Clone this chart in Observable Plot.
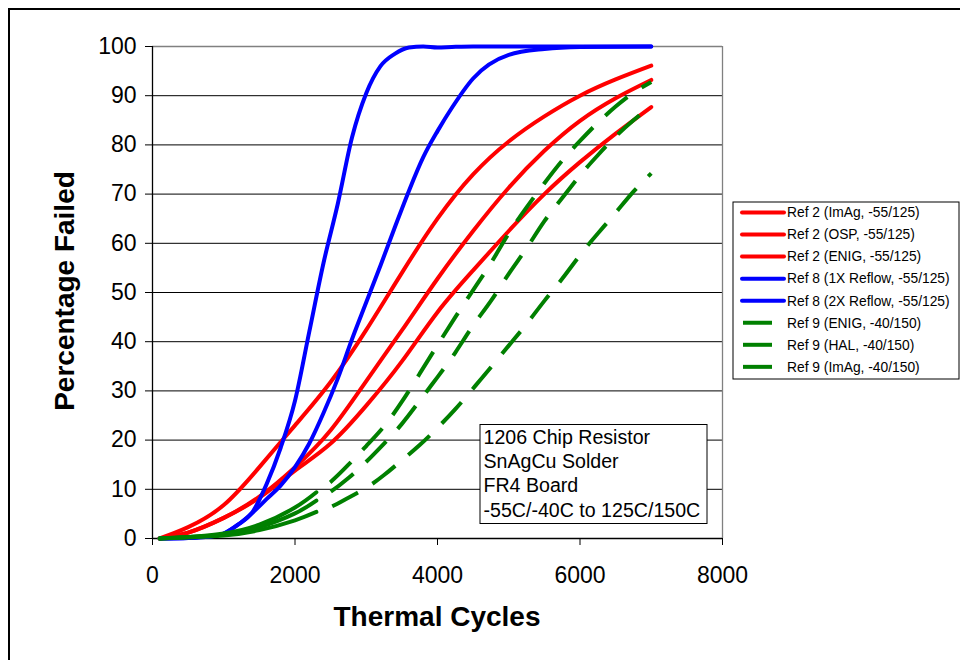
<!DOCTYPE html>
<html>
<head>
<meta charset="utf-8">
<script src="https://cdn.jsdelivr.net/npm/d3@7"></script>
<script src="https://cdn.jsdelivr.net/npm/@observablehq/plot@0.6"></script>
<style>
  html, body { margin: 0; padding: 0; background: #fff; }
  #chart { width: 960px; height: 660px; overflow: hidden; }
</style>
</head>
<body>
<div id="chart"></div>
<script>
// ---------- data ----------
const xTicks = [0, 2000, 4000, 6000, 8000];
const yTicks = [0, 10, 20, 30, 40, 50, 60, 70, 80, 90, 100];

const seriesNames = [
  "Ref 2 (ImAg, -55/125)",
  "Ref 2 (OSP, -55/125)",
  "Ref 2 (ENIG, -55/125)",
  "Ref 8 (1X Reflow, -55/125)",
  "Ref 8 (2X Reflow, -55/125)",
  "Ref 9 (ENIG, -40/150)",
  "Ref 9 (HAL, -40/150)",
  "Ref 9 (ImAg, -40/150)"
];
const seriesColors = ["#FF0000", "#FF0000", "#FF0000", "#0000FF", "#0000FF", "#008000", "#008000", "#008000"];
const seriesDashed = [false, false, false, false, false, true, true, true];
const seriesCurve  = ["natural", "natural", "natural", "monotone-x", "monotone-x", "natural", "natural", "natural"];

const cyclesRef2 = [100, 500, 1000, 1500, 2000, 2500, 3000, 3500, 4000, 4500, 5000, 5500, 6000, 6500, 7000];
const ref2ImAg = [0, 2.3, 6.8, 14.5, 23, 31.8, 42.4, 54, 65, 74, 80.7, 85.8, 90, 93.3, 96.1];
const ref2OSP  = [0, 1.2, 4.2, 8.5, 14.5, 22, 32, 42.3, 52.8, 62.5, 71.3, 78.8, 84.9, 89.5, 93.2];
const ref2ENIG = [0, 1.2, 4.2, 8.3, 13.8, 19.3, 27, 36, 46, 54.5, 62.5, 70, 76.5, 82.3, 87.7];

const cyclesRef8 = [100, 500, 800, 1000, 1200, 1400, 1600, 1800, 2000, 2200, 2400, 2600, 2800, 3000, 3200, 3400, 3600, 3800, 4000, 4200, 4500, 5000, 5500, 6000, 7000];
const ref8Reflow1X = [0, 0.1, 0.4, 1, 2.8, 5.3, 11, 18.5, 28, 42, 56, 68, 81.5, 90.5, 96, 98.5, 99.8, 100, 99.8, 99.9, 100, 100, 100, 100, 100];
const ref8Reflow2X = [0, 0.1, 0.4, 1, 2.8, 5.2, 8, 10.8, 14.5, 19.3, 25.5, 32.5, 40.5, 48, 55.5, 63.2, 70.7, 77.5, 82.8, 87.5, 93.5, 98.3, 99.5, 99.9, 100];

const cyclesRef9 = [100, 500, 1000, 1500, 2000, 2300, 2500, 2750, 3000, 3250, 3500, 3750, 4000, 4250, 4500, 4750, 5000, 5250, 5500, 5750, 6000, 6250, 6500, 6750, 7000];
const ref9ENIG = [0, 0.3, 1, 2.8, 6.3, 9.4, 11.5, 15, 18.8, 22.8, 27.8, 33.5, 39.3, 45, 50.5, 56, 62, 67.3, 72.2, 76.8, 80.8, 84.5, 87.8, 90.6, 92.8];
const ref9HAL  = [0, 0.3, 0.8, 2.3, 5.1, 7.7, 9.5, 12.3, 15.6, 19.3, 23.3, 28, 32.8, 37.8, 43.3, 48.3, 53.8, 59, 64.5, 69.2, 73.8, 77.9, 81.7, 85, 88];
const ref9ImAg = [0, 0.2, 0.6, 1.7, 3.7, 5.4, 6.4, 8.3, 10.3, 12.9, 15.9, 19, 22.5, 26.3, 30.5, 34.8, 39.2, 43.6, 48.3, 52.8, 57.6, 62, 66.2, 70.5, 74.2];

const noteLines = ["1206 Chip Resistor", "SnAgCu Solder", "FR4 Board", "-55C/-40C to 125C/150C"];
const xTitle = "Thermal Cycles";
const yTitle = "Percentage Failed";

// ---------- table ----------
const seriesX = [cyclesRef2, cyclesRef2, cyclesRef2, cyclesRef8, cyclesRef8, cyclesRef9, cyclesRef9, cyclesRef9];
const seriesY = [ref2ImAg, ref2OSP, ref2ENIG, ref8Reflow1X, ref8Reflow2X, ref9ENIG, ref9HAL, ref9ImAg];
const rows = [];
seriesNames.forEach((name, i) => {
  seriesX[i].forEach((x, j) => rows.push({series: name, idx: i, x, y: seriesY[i][j]}));
});
const colorOf = d => seriesColors[d.idx];

const lineMarks = [];
seriesNames.forEach((name, i) => {
  const r = rows.filter(d => d.idx === i);
  if (!seriesDashed[i]) {
    lineMarks.push(Plot.line(r, {x: "x", y: "y", stroke: colorOf, strokeWidth: 4, curve: seriesCurve[i]}));
  } else {
    lineMarks.push(Plot.line(r.filter(d => d.x <= 2300), {x: "x", y: "y", stroke: colorOf, strokeWidth: 4, curve: seriesCurve[i]}));
    lineMarks.push(Plot.line(r.filter(d => d.x >= 2300), {x: "x", y: "y", stroke: colorOf, strokeWidth: 4, curve: seriesCurve[i],
      strokeDasharray: "29,17", strokeDashoffset: 29, strokeLinecap: "butt"}));
  }
});

const FONT = "'Liberation Sans', Arial, Helvetica, sans-serif";

const svg = Plot.plot({
  width: 960,
  height: 660,
  marginLeft: 152,
  marginRight: 238,
  marginTop: 46,
  marginBottom: 122,
  style: {fontFamily: FONT, background: "#fff", color: "#000", overflow: "visible"},
  x: {domain: [0, 8000]},
  y: {domain: [0, 100]},
  marks: [
    Plot.ruleY(yTicks.filter(d => d > 0 && d < 100), {stroke: "#000", strokeWidth: 1}),
    Plot.ruleY([100], {stroke: "#808080", strokeWidth: 1.3}),
    Plot.ruleX([8000], {stroke: "#808080", strokeWidth: 1.3}),
    Plot.ruleX([0], {stroke: "#000", strokeWidth: 1.3}),
    Plot.ruleY([0], {stroke: "#000", strokeWidth: 1.3}),
    Plot.axisY({ticks: yTicks, tickSize: 7, tickPadding: 9, fontSize: 23, label: null, tickFormat: d3.format("d")}),
    Plot.axisX({ticks: xTicks, tickSize: 7, tickPadding: 21, fontSize: 23, label: null, tickFormat: d3.format("d")}),
    ...lineMarks
  ]
});

const s = d3.select(svg);

// axis titles
s.append("text").attr("x", 437).attr("y", 626).attr("text-anchor", "middle")
  .attr("font-family", FONT).attr("font-weight", "bold").attr("font-size", 28).attr("fill", "#000").text(xTitle);
s.append("text").attr("transform", "translate(74,291) rotate(-90)").attr("text-anchor", "middle")
  .attr("font-family", FONT).attr("font-weight", "bold").attr("font-size", 28).attr("fill", "#000").text(yTitle);

// annotation box
const note = s.append("g").attr("text-anchor", "start");
note.append("rect").attr("x", 480).attr("y", 424.5).attr("width", 227).attr("height", 99)
  .attr("fill", "#fff").attr("stroke", "#000").attr("stroke-width", 1);
noteLines.forEach((t, i) => {
  note.append("text").attr("x", 483.5).attr("y", 437 + i * 24.3).attr("dy", "0.35em")
    .attr("text-anchor", "start")
    .attr("font-family", FONT).attr("font-size", 19.6).attr("fill", "#000").text(t);
});

// legend
const leg = s.append("g").attr("text-anchor", "start");
leg.append("rect").attr("x", 733).attr("y", 202).attr("width", 226).attr("height", 177)
  .attr("fill", "#fff").attr("stroke", "#000").attr("stroke-width", 1);
seriesNames.forEach((name, i) => {
  const yy = 212.5 + i * 22.05;
  leg.append("line")
    .attr("x1", seriesDashed[i] ? 743 : 742).attr("x2", seriesDashed[i] ? 772 : 784)
    .attr("y1", yy).attr("y2", yy)
    .attr("stroke", seriesColors[i]).attr("stroke-width", 4)
    .attr("stroke-linecap", seriesDashed[i] ? "butt" : "round");
  leg.append("text").attr("x", 787).attr("y", yy).attr("dy", "0.35em")
    .attr("text-anchor", "start")
    .attr("font-family", FONT).attr("font-size", 13.8).attr("fill", "#000").text(name);
});

// outer chart border
s.append("rect").attr("x", 9).attr("y", 9).attr("width", 975).attr("height", 675)
  .attr("fill", "none").attr("stroke", "#000").attr("stroke-width", 2);

document.getElementById("chart").appendChild(svg);
</script>
</body>
</html>
